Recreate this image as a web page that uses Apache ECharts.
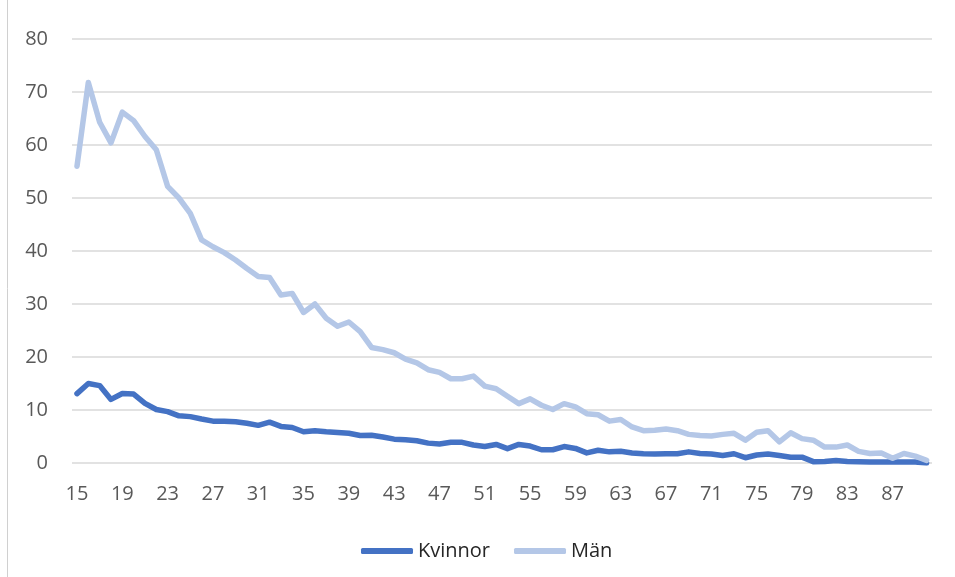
<!DOCTYPE html>
<html>
<head>
<meta charset="utf-8">
<script src="https://cdn.jsdelivr.net/npm/echarts@6/dist/echarts.min.js"></script>
<style>
html,body{margin:0;padding:0;background:#fff;}
#chart{width:955px;height:577px;}
</style>
</head>
<body>
<div id="chart"></div>
<script>
var ages = [];
for (var a = 15; a <= 90; a++) ages.push(String(a));

var seriesNames = ['Kvinnor', 'Män'];

var kvinnor = [13.1, 15.0, 14.6, 12.0, 13.1, 13.0, 11.25, 10.1, 9.7, 8.9,
  8.75, 8.3, 7.9, 7.9, 7.8, 7.5, 7.1, 7.7, 6.9, 6.7,
  5.9, 6.1, 5.9, 5.75, 5.6, 5.2, 5.25, 4.9, 4.5, 4.4,
  4.2, 3.75, 3.6, 3.9, 3.9, 3.4, 3.1, 3.5, 2.7, 3.5,
  3.2, 2.5, 2.5, 3.1, 2.75, 1.9, 2.4, 2.1, 2.2, 1.9,
  1.75, 1.7, 1.75, 1.75, 2.1, 1.8, 1.7, 1.4, 1.75, 1.0,
  1.5, 1.7, 1.4, 1.1, 1.1, 0.25, 0.3, 0.45, 0.3, 0.25,
  0.2, 0.2, 0.2, 0.2, 0.2, 0.0];

var man = [56.0, 71.8, 64.3, 60.4, 66.2, 64.6, 61.6, 59.1, 52.2, 50.0,
  47.1, 42.1, 40.8, 39.7, 38.3, 36.7, 35.2, 35.0, 31.7, 32.0,
  28.4, 30.0, 27.3, 25.8, 26.6, 24.8, 21.8, 21.4, 20.8, 19.6,
  18.9, 17.6, 17.1, 15.9, 15.9, 16.4, 14.5, 14.0, 12.6, 11.2,
  12.1, 10.9, 10.1, 11.2, 10.6, 9.3, 9.1, 7.9, 8.2, 6.8,
  6.1, 6.2, 6.4, 6.1, 5.4, 5.2, 5.1, 5.4, 5.6, 4.3,
  5.8, 6.1, 4.0, 5.7, 4.6, 4.3, 3.0, 3.0, 3.4, 2.2,
  1.8, 1.9, 0.9, 1.8, 1.3, 0.5];

var yMin = 0, yMax = 80, yStep = 10;

var FONT = '"Open Sans", "Noto Sans", sans-serif';
var TXT = '#595959';

var chart = echarts.init(document.getElementById('chart'), null, {renderer: 'canvas'});
chart.setOption({
  backgroundColor: '#ffffff',
  animation: false,
  graphic: [{
    type: 'rect',
    shape: {x: 7.5, y: -10, width: 1000, height: 1000},
    style: {fill: 'none', stroke: '#D0D0D0', lineWidth: 1},
    silent: true
  }],
  legend: {
    data: seriesNames,
    left: 356,
    top: 536,
    icon: 'roundRect',
    itemWidth: 52,
    itemHeight: 6,
    itemGap: 24,
    textStyle: {fontFamily: FONT, fontSize: 20, color: '#262626'}
  },
  grid: [
    {left: 72, right: 23, top: 39, bottom: 114, containLabel: false},
    {left: 77, right: 28.4, top: 39, bottom: 114, containLabel: false}
  ],
  xAxis: [
    {gridIndex: 0, type: 'value', min: 0, max: 1, show: false},
    {
      gridIndex: 1, type: 'category', data: ages, boundaryGap: false,
      axisLine: {show: false}, axisTick: {show: false},
      axisLabel: {interval: 3, margin: 21, fontFamily: FONT, fontSize: 20, color: TXT},
      splitLine: {show: false}
    }
  ],
  yAxis: [
    {
      gridIndex: 0, type: 'value', min: yMin, max: yMax, interval: yStep,
      axisLine: {show: false}, axisTick: {show: false},
      axisLabel: {margin: 24, fontFamily: FONT, fontSize: 20, color: TXT},
      splitLine: {show: true, lineStyle: {color: '#D9D9D9', width: 1.5}}
    },
    {gridIndex: 1, type: 'value', min: yMin, max: yMax, interval: yStep, show: false, splitLine: {show: false}}
  ],
  series: [
    {
      name: seriesNames[0], type: 'line', xAxisIndex: 1, yAxisIndex: 1,
      data: kvinnor, symbol: 'none', smooth: false,
      itemStyle: {color: '#4472C4'},
      lineStyle: {color: '#4472C4', width: 5.5, cap: 'round', join: 'round'}
    },
    {
      name: seriesNames[1], type: 'line', xAxisIndex: 1, yAxisIndex: 1,
      data: man, symbol: 'none', smooth: false,
      itemStyle: {color: '#B4C7E7'},
      lineStyle: {color: '#B4C7E7', width: 5.5, cap: 'round', join: 'round'}
    }
  ]
});
</script>
</body>
</html>
